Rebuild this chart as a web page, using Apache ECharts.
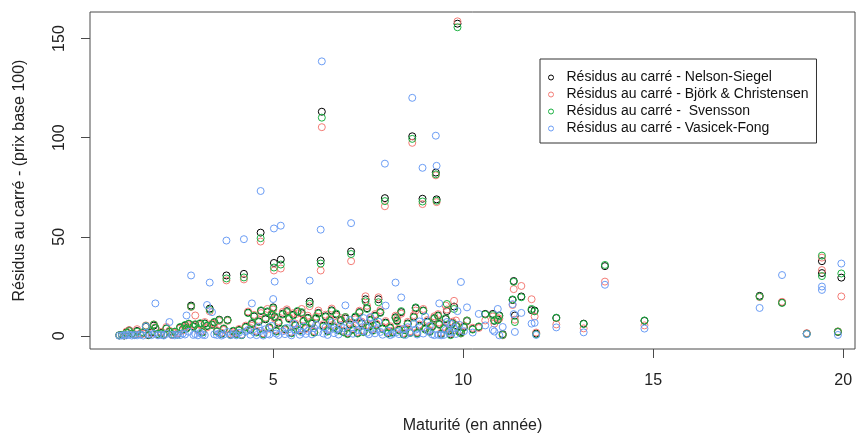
<!DOCTYPE html>
<html>
<head>
<meta charset="utf-8">
<script src="https://cdn.jsdelivr.net/npm/echarts@6/dist/echarts.min.js"></script>
<style>
  html, body { margin: 0; padding: 0; background: #fff; }
  #chart { width: 858px; height: 439px; }
</style>
</head>
<body>
<div id="chart"></div>
<script>
// Maturité de chaque obligation (en années)
const maturite = [
  0.95,1.02,1.08,1.14,1.21,1.28,1.35,1.42,1.50,1.58,
  1.65,1.72,1.80,1.86,1.90,1.97,2.05,2.12,2.19,2.27,
  2.34,2.41,2.48,2.55,2.62,2.68,2.72,2.78,2.84,2.90,
  2.95,3.02,3.08,3.14,3.20,3.26,3.33,3.39,3.45,3.52,
  3.58,3.64,3.70,3.77,3.80,3.88,3.95,4.03,4.10,4.17,
  4.23,4.28,
  4.34,4.40,4.44,4.50,4.56,4.62,4.67,4.68,4.74,4.80,
  4.85,4.90,4.96,5.00,5.02,5.04,5.08,5.14,5.20,5.25,
  5.31,5.36,5.42,5.48,5.53,5.58,5.64,5.70,5.75,5.80,
  5.86,5.91,5.96,6.02,6.08,6.13,6.19,6.25,6.28,6.32,
  6.38,6.43,6.49,6.54,6.60,6.66,6.72,6.78,6.85,6.90,
  6.96,7.02,7.05,7.10,7.16,7.22,7.27,7.33,7.38,7.43,
  7.47,7.52,7.56,7.62,7.68,7.72,7.77,7.82,7.88,7.94,
  7.96,8.02,8.08,8.14,8.22,8.26,8.31,8.37,8.43,8.48,
  8.54,8.60,8.66,8.70,8.75,8.79,8.85,8.93,8.95,9.00,
  9.06,9.12,9.18,9.24,9.28,9.30,9.34,9.37,9.42,9.49,
  9.54,9.57,9.63,9.67,9.72,9.76,9.81,9.85,9.90,9.94,
  10.02,10.10,10.25,10.41,10.58,10.78,10.82,10.91,10.95,11.04,
  11.30,11.33,11.36,11.53,11.80,11.88,11.92,12.45,13.17,13.73,
  14.77,17.80,18.39,19.04,19.44,19.44,19.86,19.95
];

// Résidus au carré - Nelson-Siegel
const residusNS = [
  0.3,0.5,0.2,1.8,2.8,1.2,0.6,2.5,0.9,1.4,
  4.6,0.4,1.7,5.2,3.9,0.8,1.5,0.7,3.8,2.2,
  0.6,1.9,0.9,4.2,3.1,5.2,4.0,6.0,15.3,4.8,
  5.6,3.3,6.1,2.0,6.3,5.0,13.8,5.8,6.8,2.4,
  8.2,1.1,3.5,30.5,8.1,0.7,2.3,1.2,3.0,0.5,
  31.3,4.6,
  11.8,3.2,6.0,9.8,2.0,7.3,52.1,12.6,1.1,8.4,
  12.0,4.1,10.5,14.4,36.8,9.5,2.5,6.7,38.5,11.2,
  3.4,12.5,8.9,1.6,10.7,5.5,12.2,2.8,11.5,7.6,
  4.0,9.1,17.3,6.2,1.9,8.7,11.6,38.0,113.1,5.1,
  9.9,2.6,7.9,12.9,4.4,10.8,3.0,8.0,2.1,8.8,
  1.2,5.8,42.6,3.3,9.3,1.5,12.0,6.4,2.2,18.5,
  14.0,4.7,8.1,2.9,10.2,5.6,18.5,12.0,3.8,69.5,
  6.7,1.4,4.2,2.0,9.4,7.8,3.1,12.0,1.0,3.0,
  6.3,1.7,100.7,9.7,14.0,1.5,5.1,69.2,12.8,3.6,
  7.2,2.3,4.8,9.0,82.4,68.9,10.3,6.0,1.1,3.9,
  8.5,12.5,2.7,0.8,6.5,14.8,5.4,157.5,2.2,1.8,
  4.6,7.5,3.5,4.5,11.1,11.1,7.6,8.3,10.3,0.9,
  18.1,27.7,10.3,19.9,13.0,12.8,1.2,9.0,6.2,35.2,
  7.6,20.2,16.9,1.2,37.7,31.7,2.0,29.4
];

// Résidus au carré - Björk & Christensen
const residusBC = [
  0.2,0.4,0.6,2.2,2.9,1.0,0.9,3.4,1.2,1.1,
  5.3,0.8,1.3,5.8,4.4,0.5,2.0,0.9,4.5,2.6,
  0.4,1.5,1.3,3.7,2.7,4.6,4.8,5.4,14.6,5.5,
  10.3,2.8,5.5,2.5,7.0,4.3,12.4,6.3,6.1,2.9,
  7.5,1.6,3.0,28.0,7.6,1.0,1.8,1.5,3.5,0.8,
  28.5,5.2,
  12.3,4.0,5.1,10.6,2.6,8.1,47.6,11.5,1.4,9.2,
  13.6,3.6,11.4,13.3,33.0,8.8,3.1,7.5,34.0,12.1,
  2.9,13.4,9.6,2.0,11.5,6.3,11.3,3.4,13.6,8.2,
  3.5,10.2,15.0,7.0,2.4,9.8,12.8,33.0,105.3,5.9,
  10.7,3.2,8.6,13.8,5.0,9.9,3.7,8.9,2.6,9.5,
  1.6,6.6,37.7,4.1,8.4,2.0,12.7,7.2,2.8,20.0,
  15.2,5.4,9.0,3.5,11.0,6.2,19.5,13.0,4.5,65.4,
  7.5,1.9,4.9,2.6,10.2,8.6,3.8,11.2,1.5,3.6,
  7.1,2.3,97.4,10.5,12.8,2.0,5.8,66.5,13.6,4.2,
  8.0,2.9,5.5,9.9,81.0,67.5,11.0,6.8,1.6,4.6,
  15.3,13.3,3.3,1.2,7.2,17.7,7.8,158.7,2.8,1.2,
  5.3,7.8,4.1,4.0,7.8,9.8,6.2,9.0,8.7,0.3,
  15.6,23.6,8.2,25.2,18.5,9.8,1.7,5.8,3.8,27.4,
  5.3,19.6,17.2,1.4,39.5,33.2,2.3,19.9
];

// Résidus au carré - Svensson
const residusSV = [
  0.3,0.5,0.3,1.5,2.4,1.1,0.4,2.1,0.8,1.9,
  5.0,0.6,2.3,5.7,4.1,1.0,1.2,0.5,3.6,2.0,
  0.9,2.2,0.6,4.5,3.4,5.5,3.7,6.2,14.8,4.5,
  5.9,3.6,6.4,1.7,6.0,5.2,13.2,5.5,7.1,2.1,
  8.0,0.9,3.8,29.0,7.9,0.5,2.6,0.8,2.7,0.4,
  29.5,4.3,
  11.5,2.9,6.5,10.1,1.7,7.0,49.3,12.9,0.8,8.8,
  12.4,4.5,10.9,14.0,34.5,9.9,2.2,6.3,36.0,10.8,
  3.7,12.0,8.5,1.3,10.3,5.1,12.6,2.5,12.0,7.2,
  4.4,8.7,16.2,6.6,1.6,9.1,11.2,36.5,110.1,4.7,
  9.5,2.2,7.5,12.5,4.1,11.3,2.7,7.6,1.8,9.5,
  0.9,5.4,41.3,3.0,9.8,1.2,11.6,6.0,1.9,17.5,
  13.6,4.3,7.7,2.6,9.8,5.2,17.0,11.6,3.4,68.0,
  6.3,1.1,3.9,1.6,9.0,7.4,2.8,12.5,0.7,2.8,
  5.9,1.4,99.4,9.3,14.4,1.2,4.7,67.8,12.6,3.2,
  6.8,2.0,4.4,8.6,81.5,68.2,10.0,5.6,0.8,3.5,
  9.0,16.1,2.3,0.4,6.1,13.6,5.0,155.7,1.9,1.3,
  4.2,7.8,3.2,4.8,10.8,10.5,7.9,7.9,10.0,0.5,
  18.4,27.3,7.0,19.5,13.6,12.4,0.8,9.2,6.0,35.8,
  7.8,19.8,16.6,1.0,40.5,30.2,2.2,31.5
];

// Résidus au carré - Vasicek-Fong
const residusVF = [
  0.1,0.2,0.4,0.3,0.6,0.2,0.5,0.3,0.7,0.2,
  4.8,0.9,0.4,1.1,16.4,0.3,0.6,0.2,1.0,7.0,
  0.5,0.3,0.8,0.4,1.2,0.7,10.3,2.1,30.5,0.5,
  0.9,0.3,1.5,0.6,0.4,15.6,26.9,12.0,0.8,0.5,
  1.3,0.2,0.7,48.1,2.0,0.4,0.9,0.3,1.6,0.6,
  48.8,2.2,
  3.0,0.6,16.4,1.8,0.4,4.5,73.1,2.6,0.2,3.4,
  1.0,0.7,5.1,18.6,54.2,27.4,1.2,0.5,55.6,2.3,
  0.9,4.0,1.5,0.3,6.2,2.8,3.6,0.6,1.9,4.8,
  1.0,2.5,27.9,0.8,3.9,5.6,2.0,53.6,138.5,1.2,
  4.3,0.5,2.9,6.8,1.4,3.1,0.7,5.0,4.0,15.4,
  2.2,8.0,56.9,1.1,5.5,3.0,7.5,2.4,9.0,4.8,
  1.6,0.8,9.5,6.0,1.3,3.3,7.2,2.0,0.6,86.9,
  15.3,2.7,0.4,1.0,26.9,2.0,0.9,19.4,3.5,0.5,
  4.4,1.6,120.1,6.0,3.2,0.7,7.3,84.8,1.2,9.8,
  2.5,5.1,0.8,0.4,101.0,85.8,0.6,16.4,0.3,0.5,
  3.0,7.0,1.5,6.2,2.1,4.0,1.0,12.5,5.6,27.2,
  2.4,14.4,1.7,11.1,5.3,3.0,2.2,13.6,0.3,4.5,
  16.0,11.0,2.0,11.6,6.2,6.6,0.5,4.3,1.8,25.8,
  3.7,14.1,30.7,0.9,24.9,23.2,0.5,36.5
];

// Graduations des axes
const xTicks = [5, 10, 15, 20];
const yTicks = [0, 50, 100, 150];

const seriesNames = [
  'Résidus au carré - Nelson-Siegel',
  'Résidus au carré - Björk & Christensen',
  'Résidus au carré -  Svensson',
  'Résidus au carré - Vasicek-Fong'
];
const seriesValues = [residusNS, residusBC, residusSV, residusVF];
const seriesColors = ['#000000', '#F47C76', '#19B040', '#6B9DF5'];

const FONT = '"Liberation Sans", Arial, sans-serif';
const AXIS_GREY = '#4a4a4a';
const X_MIN = 0.18, X_MAX = 20.31;
const Y_MIN = -6.6, Y_MAX = 163.4;
const TICK_LEN = 9;

const chart = echarts.init(document.getElementById('chart'), null, { renderer: 'canvas' });

chart.setOption({
  animation: false,
  backgroundColor: '#ffffff',
  textStyle: { fontFamily: FONT },
  grid: {
    left: 90, top: 12, width: 765, height: 342,
    show: true, borderColor: AXIS_GREY, borderWidth: 1, backgroundColor: 'transparent'
  },
  legend: {
    orient: 'vertical',
    left: 540, top: 59,
    padding: [10, 8, 6, 8],
    itemGap: 0,
    itemWidth: 5, itemHeight: 5,
    borderColor: '#333333', borderWidth: 1, borderRadius: 0,
    backgroundColor: '#ffffff',
    selectedMode: false,
    textStyle: {
      fontFamily: FONT, fontSize: 14, color: '#111111',
      lineHeight: 17, padding: [0, 0, 0, 8]
    },
    data: seriesNames.map((n, i) => ({
      name: n,
      icon: 'circle',
      itemStyle: { color: 'transparent', borderColor: seriesColors[i], borderWidth: 1 }
    }))
  },
  xAxis: {
    type: 'value',
    position: 'bottom',
    min: X_MIN, max: X_MAX,
    name: 'Maturité (en année)',
    nameLocation: 'middle',
    nameGap: 69,
    nameTextStyle: { fontFamily: FONT, fontSize: 16, color: '#222222' },
    axisLine: { show: false, onZero: false },
    axisTick: { show: true, inside: false, length: TICK_LEN, customValues: xTicks,
                lineStyle: { color: AXIS_GREY, width: 1 } },
    axisLabel: { show: true, customValues: xTicks, margin: 24,
                 fontFamily: FONT, fontSize: 16, color: '#222222' },
    splitLine: { show: false }
  },
  yAxis: {
    type: 'value',
    position: 'left',
    min: Y_MIN, max: Y_MAX,
    name: 'Résidus au carré - (prix base 100)',
    nameLocation: 'middle',
    nameGap: 62,
    nameTextStyle: { fontFamily: FONT, fontSize: 16, color: '#222222' },
    axisLine: { show: false, onZero: false },
    axisTick: { show: true, inside: false, length: TICK_LEN, customValues: yTicks,
                lineStyle: { color: AXIS_GREY, width: 1 } },
    axisLabel: { show: true, customValues: yTicks, rotate: 90, margin: 22,
                 fontFamily: FONT, fontSize: 16, color: '#222222' },
    splitLine: { show: false }
  },
  series: seriesNames.map((name, i) => ({
    name: name,
    type: 'scatter',
    symbol: 'circle',
    symbolSize: 7,
    itemStyle: { color: 'transparent', borderColor: seriesColors[i], borderWidth: 1, opacity: 1 },
    emphasis: { disabled: true },
    data: maturite.map((m, k) => [m, seriesValues[i][k]])
  }))
});
</script>
</body>
</html>
